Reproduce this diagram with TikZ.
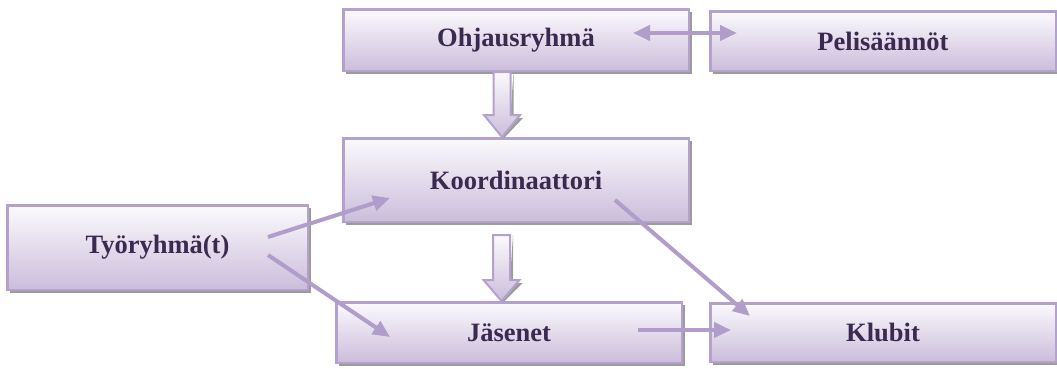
\documentclass[tikz,border=0pt]{standalone}
\usepackage{fontspec}
\setmainfont{Liberation Serif}
\usetikzlibrary{arrows.meta,shadows,calc}
\definecolor{boxline}{HTML}{B4A2CC}
\definecolor{boxtop}{HTML}{FBFAFD}
\definecolor{boxbottom}{HTML}{CBBDDB}
\definecolor{labeltext}{HTML}{3B2A50}
\definecolor{linkline}{HTML}{B09DC9}
\definecolor{shadowgrey}{HTML}{9C9C9C}

\tikzset{
  orgbox/.style={rectangle, draw=boxline, line width=2.5pt,
    top color=boxtop, bottom color=boxbottom, inner sep=0pt,
    text=labeltext, font=\fontsize{26.5}{30}\selectfont\bfseries,
    drop shadow={fill=shadowgrey, opacity=1, shadow xshift=3pt, shadow yshift=-3pt}},
  >={Triangle[length=17pt,width=15pt]},
  link/.style={draw=linkline, line width=4pt},
  blockarrow/.style={draw=boxline, line width=2pt, top color=boxtop,
    bottom color=boxbottom, line join=miter},
  blockshadow/.style={fill=shadowgrey},
}

\begin{document}
\begin{tikzpicture}[x=1pt, y=-1pt]
  \useasboundingbox (0,0) rectangle (1057,368);

  % boxes
  \node[orgbox, minimum width=345.5pt, minimum height=61.5pt] (oh) at (516,40) {Ohjausryhmä};
  \node[orgbox, minimum width=345.5pt, minimum height=59.5pt] (pe) at (883,41) {Pelisäännöt};
  \node[orgbox, minimum width=345.5pt, minimum height=83.5pt] (ko) at (516,180) {Koordinaattori};
  \node[orgbox, minimum width=300.5pt, minimum height=84.5pt] (ty) at (157.5,247.5) {Työryhmä(t)};
  \node[orgbox, minimum width=345.5pt, minimum height=60.5pt] (ja) at (509,332.5) {Jäsenet};
  \node[orgbox, minimum width=345.5pt, minimum height=58.5pt] (kl) at (883,332.5) {Klubit};

  % block arrows between the vertical levels
  \coordinate (b1) at (502,72);
  \coordinate (b2) at (501.5,235);
  \foreach \s/\t/\len in {b1/ko/43, b2/ja/45} {
    \fill[blockshadow] ($(\s)+(8.5+3,0)$) -- ++(0,\len+3) -- ++(9.5,0)
      -- ($(\s |- \t.north)+(3,0)$) -- ++(-3,0) -- ($(\s)+(18,\len)$) -- ++(-9.5,0) -- cycle;
    \draw[blockarrow] ($(\s)+(-8.5,0)$) -- ++(0,\len) -- ++(-9.5,0)
      -- (\s |- \t.north) -- ($(\s)+(18,\len)$) -- ++(-9.5,0)
      -- ($(\s)+(8.5,0)$) -- cycle;
  }

  % connector end points
  \coordinate (ohR) at (633,33);
  \coordinate (peL) at (737,33);
  \coordinate (tyA) at (268,237);
  \coordinate (koL) at (390,198);
  \coordinate (tyB) at (268,255);
  \coordinate (jaL) at (390,337);
  \coordinate (koR) at (615,200);
  \coordinate (klA) at (750,316);
  \coordinate (jaR) at (638,330);
  \coordinate (klL) at (731,330);

  % connectors
  \draw[link, <->] (ohR) -- (peL);
  \draw[link, ->] (tyA) -- (koL);
  \draw[link, ->] (tyB) -- (jaL);
  \draw[link, ->] (koR) -- (klA);
  \draw[link, ->] (jaR) -- (klL);
\end{tikzpicture}
\end{document}
